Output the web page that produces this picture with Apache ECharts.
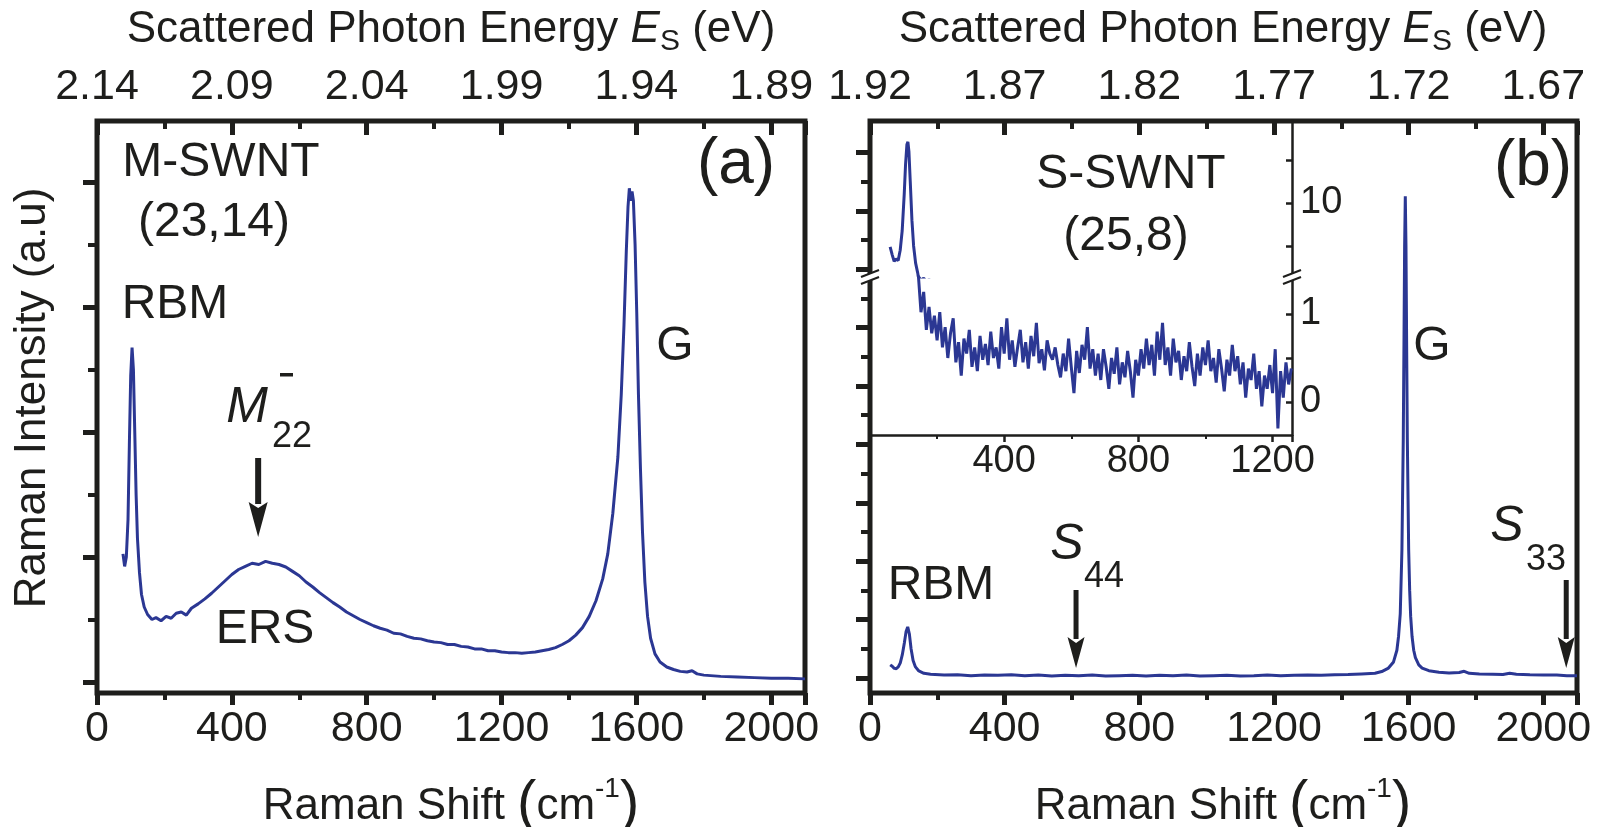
<!DOCTYPE html>
<html><head><meta charset="utf-8">
<script src="https://cdn.jsdelivr.net/npm/echarts@6/dist/echarts.min.js"></script>
<style>html,body{margin:0;padding:0;background:#fff}#c{width:1602px;height:827px}</style>
</head><body><div id="c"></div>
<script>
// ---------------- DATA ----------------
// Panel (a): M-SWNT (23,14) Raman spectrum (arb. units)
const shiftA = [77,82,87,92,96,100,104,108,112,116,120,126,132,140,150,163,175,190,205,220,235,250,265,280,300,320,340,360,380,400,420,440,460,480,500,520,540,560,580,600,620,640,660,680,700,720,740,760,780,800,820,840,860,880,900,920,940,960,980,1000,1020,1040,1060,1080,1100,1120,1140,1160,1180,1200,1220,1240,1260,1280,1300,1320,1340,1360,1380,1400,1420,1440,1460,1480,1500,1515,1530,1545,1555,1563,1570,1575,1579,1583,1587,1591,1596,1601,1606,1612,1618,1625,1633,1642,1655,1670,1690,1710,1730,1750,1765,1780,1800,1850,1900,1950,2000,2050,2100];
const intensityA = [2.05,1.85,2.0,2.6,3.8,4.9,5.35,5.0,4.0,3.0,2.3,1.75,1.4,1.2,1.08,1.0,1.03,0.98,1.05,1.02,1.1,1.12,1.07,1.18,1.25,1.33,1.42,1.52,1.62,1.72,1.8,1.85,1.9,1.88,1.93,1.9,1.88,1.84,1.77,1.7,1.6,1.52,1.43,1.35,1.27,1.2,1.12,1.06,1.0,0.95,0.9,0.86,0.83,0.78,0.77,0.73,0.7,0.69,0.66,0.64,0.63,0.6,0.6,0.57,0.56,0.53,0.53,0.5,0.5,0.48,0.47,0.47,0.46,0.47,0.48,0.5,0.52,0.55,0.6,0.66,0.75,0.87,1.05,1.3,1.65,2.05,2.7,3.6,4.6,5.7,6.9,7.6,7.9,7.7,7.85,7.7,7.0,5.9,4.6,3.4,2.4,1.6,1.05,0.7,0.45,0.32,0.24,0.2,0.17,0.16,0.18,0.13,0.11,0.09,0.08,0.07,0.06,0.06,0.05];

// Panel (b): S-SWNT (25,8) Raman spectrum (arb. units)
const shiftB = [60,66,72,78,84,90,96,102,107,112,117,122,128,135,145,160,180,220,260,300,340,380,420,460,500,540,580,620,660,700,740,780,820,860,900,940,980,1020,1060,1100,1140,1180,1220,1260,1300,1340,1380,1420,1460,1500,1520,1540,1555,1565,1570,1575,1580,1584,1586,1588,1590,1592,1594,1596,1600,1603,1606,1610,1615,1620,1630,1640,1660,1690,1720,1750,1765,1780,1810,1850,1880,1900,1920,1960,2000,2040,2070,2100];
const intensityB = [0.45,0.4,0.33,0.32,0.38,0.52,0.8,1.2,1.58,1.75,1.5,1.0,0.6,0.38,0.24,0.16,0.13,0.1,0.11,0.08,0.1,0.09,0.11,0.08,0.1,0.07,0.09,0.08,0.1,0.07,0.08,0.09,0.07,0.09,0.08,0.1,0.07,0.08,0.09,0.07,0.08,0.1,0.08,0.09,0.1,0.09,0.11,0.12,0.14,0.16,0.22,0.34,0.55,0.95,1.43,2.2,4.4,8.2,11.4,14.8,16.5,14.8,11.4,8.2,4.4,3.0,2.1,1.43,0.95,0.7,0.45,0.34,0.25,0.2,0.17,0.19,0.23,0.16,0.14,0.13,0.12,0.16,0.13,0.11,0.1,0.1,0.08,0.08];

// Inset of (b): magnified low-frequency region (broken y axis)
const insetShift = [60,66,72,78,84,90,96,102,106,110,113,116,120,125,130,136,142,
144,152,160,168,176,184,192,200,208,216,224,232,240,248,256,264,272,280,288,296,304,312,320,328,336,344,352,360,368,376,384,392,400,408,416,424,432,440,448,456,464,472,480,488,496,504,512,520,528,536,544,552,560,568,576,584,592,600,608,616,624,632,640,648,656,664,672,680,688,696,704,712,720,728,736,744,752,760,768,776,784,792,800,808,816,824,832,840,848,856,864,872,880,888,896,904,912,920,928,936,944,952,960,968,976,984,992,1000,1008,1016,1024,1032,1040,1048,1056,1064,1072,1080,1088,1096,1104,1112,1120,1128,1136,1144,1152,1160,1168,1176,1184,1192,1200,1208,1216,1224,1232,1240,1248,1256];
const insetIntensity = [4.9,4.0,3.2,3.5,3.3,4.5,6.8,11,14.5,16.8,17.1,16,12.5,8,5,3,1.9,
1.45,1.02,1.25,0.82,1.08,0.78,0.98,0.7,1.02,0.62,
0.85,0.5,0.78,0.95,0.45,0.68,0.3,0.72,0.55,0.82,
0.4,0.62,0.35,0.75,0.48,0.66,0.42,0.8,0.5,0.62,
0.38,0.85,0.55,0.95,0.48,0.7,0.4,0.62,0.82,0.45,
0.68,0.38,0.75,0.52,0.9,0.44,0.6,0.36,0.7,0.55,
0.48,0.62,0.42,0.28,0.55,0.35,0.72,0.4,0.1,0.58,
0.33,0.65,0.48,0.85,0.38,0.6,0.3,0.55,0.25,0.6,
0.4,0.15,0.5,0.32,0.62,0.2,0.45,0.28,0.58,0.35,
0.05,0.48,0.3,0.6,0.38,0.72,0.42,0.65,0.3,0.8,
0.48,0.9,0.42,0.62,0.3,0.72,0.45,0.58,0.25,0.52,
0.35,0.68,0.4,0.18,0.55,0.3,0.62,0.42,0.7,0.35,
0.5,0.22,0.6,0.38,0.12,0.48,0.3,0.65,0.35,0.52,
0.2,0.45,0.05,0.38,0.25,0.55,0.15,0.35,-0.05,0.3,
0.15,0.42,0.1,0.6,-0.3,0.35,0.05,0.45,0.2,0.38];

// Tick values / labels
const shiftTicks = [0,400,800,1200,1600,2000];
const energyLabelsA = ['2.14','2.09','2.04','1.99','1.94','1.89'];
const energyLabelsB = ['1.92','1.87','1.82','1.77','1.72','1.67'];
const yMajorA = [0,2,4,6,8];
const yMinorA = [1,3,5,7];
const yMajorB = [0,2,4,6,8,10,12,14,16,18];
const yMinorB = [1,3,5,7,9,11,13,15,17];
const insetUpperTicks = [5,10,15];
const insetUpperLabels = [10];
const insetLowerTicks = [0,0.5,1];
const insetLowerLabels = [0,1];
// Arrow positions (Raman shift, cm-1)
const arrowM22 = 478, arrowS44 = 612, arrowS33 = 2068;

// ---------------- STYLE ----------------
const FONT = 'Liberation Sans, Arial, Helvetica, sans-serif';
const INK = '#1e1e1c';
const BLUE = '#2b3793';

const chart = echarts.init(document.getElementById('c'), null, {renderer:'canvas', width:1602, height:827});
const zip = (a,b) => a.map((v,i)=>[v,b[i]]);

function bottomX(grid){ return {type:'value', gridIndex:grid, position:'bottom', min:0, max:2100, interval:400,
  axisLine:{show:false,onZero:false}, axisTick:{show:true, inside:false, length:12, lineStyle:{color:INK,width:5}},
  minorTick:{show:true, splitNumber:2, length:7, lineStyle:{color:INK,width:4}},
  axisLabel:{fontSize:43, fontFamily:FONT, color:INK, margin:15, formatter:v=>String(v)},
  splitLine:{show:false}, minorSplitLine:{show:false}}; }
function topX(grid, labels){ return {type:'value', gridIndex:grid, position:'top', min:0, max:2100, interval:400,
  axisLine:{show:false,onZero:false}, axisTick:{show:true, inside:true, length:14, lineStyle:{color:INK,width:5}},
  minorTick:{show:true, splitNumber:2, length:8, lineStyle:{color:INK,width:4}},
  axisLabel:{fontSize:43, fontFamily:FONT, color:INK, margin:12,
    formatter:v=>{const i=shiftTicks.indexOf(v); return i<0?'':labels[i];}},
  splitLine:{show:false}, minorSplitLine:{show:false}}; }
function leftY(grid,min,max,vals,len,w){ return {type:'value', gridIndex:grid, position:'left', min, max,
  axisLine:{show:false,onZero:false}, axisTick:{show:true, inside:false, length:len, customValues:vals, lineStyle:{color:INK,width:w}},
  axisLabel:{show:false}, splitLine:{show:false}}; }
function insetY(grid,min,max,ticks,labels){ return {type:'value', gridIndex:grid, position:'right', min, max,
  axisLine:{show:true,onZero:false,lineStyle:{color:INK,width:2.5}},
  axisTick:{show:true, inside:true, length:6, customValues:ticks, lineStyle:{color:INK,width:2.5}},
  axisLabel:{show:true, customValues:labels, fontSize:38, fontFamily:FONT, color:INK, margin:8, formatter:v=>String(v)},
  splitLine:{show:false}}; }
const lineSeries = (xi, yi, data) => ({type:'line', xAxisIndex:xi, yAxisIndex:yi, data, showSymbol:false, clip:true,
  lineStyle:{color:BLUE,width:3}, itemStyle:{color:BLUE}, z:3});

chart.setOption({
  animation:false,
  backgroundColor:'#ffffff',
  grid:[
    {left:97, top:121, width:708, height:572, show:true, borderColor:INK, borderWidth:5},
    {left:870, top:121, width:707, height:572, show:true, borderColor:INK, borderWidth:5},
    {left:870, top:121, width:422, height:156},
    {left:870, top:277, width:422, height:158}
  ],
  xAxis:[
    bottomX(0), topX(0, energyLabelsA), bottomX(1), topX(1, energyLabelsB),
    {type:'value', gridIndex:2, min:0, max:1258, show:false},
    {type:'value', gridIndex:3, position:'bottom', min:0, max:1258, interval:400,
      axisLine:{show:true,onZero:false,lineStyle:{color:INK,width:2.5}},
      axisTick:{show:true, length:7, lineStyle:{color:INK,width:2.5}},
      minorTick:{show:true, splitNumber:2, length:4, lineStyle:{color:INK,width:2}},
      axisLabel:{fontSize:38, fontFamily:FONT, color:INK, margin:8, formatter:v=>v===0?'':String(v)},
      splitLine:{show:false}, minorSplitLine:{show:false}}
  ],
  yAxis:[
    leftY(0,-0.176,8.976,yMajorA,14,5), leftY(0,-0.176,8.976,yMinorA,9,4),
    leftY(1,-0.514,19.075,yMajorB,14,5), leftY(1,-0.514,19.075,yMinorB,9,4),
    insetY(2,1.39,19.53,insetUpperTicks,insetUpperLabels),
    insetY(3,-0.375,1.42,insetLowerTicks,insetLowerLabels)
  ],
  series:[
    lineSeries(0,0,zip(shiftA,intensityA)),
    lineSeries(2,2,zip(shiftB,intensityB)),
    lineSeries(4,4,zip(insetShift,insetIntensity)),
    lineSeries(5,5,zip(insetShift,insetIntensity))
  ]
});

// ---------------- ANNOTATIONS ----------------
const mctx = document.createElement('canvas').getContext('2d');
const fontStr = (size, style) => `${style||'normal'} ${size}px ${FONT}`;
function txt(t, x, y, size, opts){ opts=opts||{};
  return {type:'text', x, y, rotation:opts.rot||0, z:10,
    style:{text:t, font:fontStr(size,opts.style), fill:INK, textAlign:opts.align||'center', verticalAlign:'middle', textVerticalAlign:'middle'}}; }
// lay out a row of segments centred at (cx,cy)
function row(segs, cx, cy){
  const ws = segs.map(s=>{mctx.font=fontStr(s.size,s.style); return mctx.measureText(s.t).width;});
  const total = ws.reduce((a,b)=>a+b,0);
  let x = cx-total/2; const out=[];
  segs.forEach((s,i)=>{ out.push(txt(s.t, x, cy+(s.dy||0), s.size, {style:s.style, align:'left'})); x+=ws[i]; });
  return out;
}
function arrow(x, y1, y2, sw, hw, hh){
  return [
    {type:'rect', z:10, shape:{x:x-sw/2, y:y1, width:sw, height:y2-hh-y1+2}, style:{fill:INK}},
    {type:'polygon', z:10, shape:{points:[[x-hw/2,y2-hh],[x,y2-hh+6],[x+hw/2,y2-hh],[x,y2]]}, style:{fill:INK}}
  ];
}
function brk(x, y){
  return [
    {type:'polygon', z:11, shape:{points:[[x-9,y+3],[x+9,y-4],[x+9,y+3],[x-9,y+10]]}, style:{fill:'#fff'}},
    {type:'line', z:12, shape:{x1:x-9,y1:y+3,x2:x+9,y2:y-4}, style:{stroke:INK,lineWidth:2}},
    {type:'line', z:12, shape:{x1:x-9,y1:y+10,x2:x+9,y2:y+3}, style:{stroke:INK,lineWidth:2}}
  ];
}
const px = (axis, v) => chart.convertToPixel({xAxisIndex:axis}, v);

const g = [];
// axis titles
const topTitle = [{t:'Scattered Photon Energy ',size:44},{t:'E',size:44,style:'italic'},{t:'S',size:30,dy:12},{t:' (eV)',size:44}];
const botTitle = [{t:'Raman Shift ',size:44},{t:'(',size:58,dy:-2},{t:'cm',size:44},{t:'-1',size:28,dy:-18},{t:')',size:58,dy:-2}];
g.push(...row(topTitle, 451, 30));
g.push(...row(topTitle, 1223, 30));
g.push(...row(botTitle, 451, 807));
g.push(...row(botTitle, 1223, 807));
g.push(txt('Raman Intensity (a.u)', 33, 398, 44, {rot:Math.PI/2}));
// panel (a)
g.push(txt('M-SWNT', 221, 163, 48));
g.push(txt('(23,14)', 214, 223, 48));
g.push(txt('RBM', 175, 305, 48));
g.push(txt('(a)', 736, 165, 64));
g.push(txt('G', 675, 347, 48));
g.push(txt('ERS', 265, 630, 48));
g.push(txt('M', 247, 408, 50, {style:'italic'}));
g.push(txt('22', 292, 437, 36));
g.push({type:'rect', z:10, shape:{x:280,y:373,width:13,height:3.5}, style:{fill:INK}});
g.push(...arrow(px(0,arrowM22), 458, 537, 6, 19, 35));
// panel (b)
g.push(txt('S-SWNT', 1131, 175, 48));
g.push(txt('(25,8)', 1126, 237, 48));
g.push(txt('(b)', 1533, 167, 64));
g.push(txt('G', 1432, 347, 48));
g.push(txt('RBM', 941, 586, 48));
g.push(txt('S', 1067, 545, 50, {style:'italic'}));
g.push(txt('44', 1104, 577, 36));
g.push(...arrow(px(2,arrowS44), 590, 668, 5, 17, 31));
g.push(txt('S', 1507, 527, 50, {style:'italic'}));
g.push(txt('33', 1546, 560, 36));
g.push(...arrow(px(2,arrowS33), 580, 668, 5, 17, 31));
// axis breaks of the inset
g.push(...brk(870, 274));
g.push(...brk(1292, 274));

chart.setOption({graphic:{elements:g}});
</script>
</body></html>
